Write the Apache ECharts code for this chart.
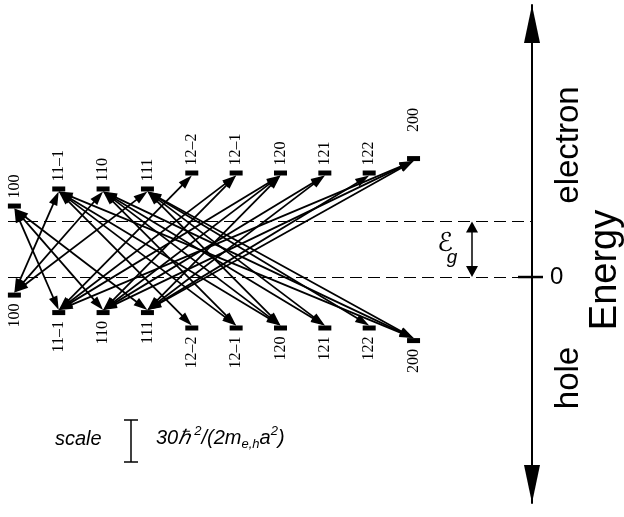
<!DOCTYPE html>
<html>
<head>
<meta charset="utf-8">
<title>Electron and hole levels</title>
<script src="https://cdn.jsdelivr.net/npm/echarts@6/dist/echarts.min.js"></script>
<style>
html, body { margin: 0; padding: 0; background: #fff; }
#main { width: 624px; height: 517px; }
</style>
</head>
<body>
<div id="main"></div>
<script>
// confinement levels in units of hbar^2/(2 m a^2)
var states = ['100', '11\u20131', '110', '111', '12\u20132', '12\u20131', '120', '121', '122', '200'];
var electronLevels = [11.1, 23.3, 23.3, 23.3, 34.7, 34.7, 34.7, 34.7, 34.7, 45.0]; // above conduction band edge
var holeLevels = [12.9, 25.4, 25.4, 25.4, 36.4, 36.4, 36.4, 36.4, 36.4, 45.4];     // below valence band edge
var gapEnergy = 39.6;
var scaleEnergy = 30;
var zeroTick = [0];

// allowed transitions: [electron state, hole state], indices into states
var transitions = [
	[0, 1], [0, 2], [0, 3],
	[4, 1],
	[5, 1], [5, 2],
	[6, 1], [6, 2], [6, 3],
	[7, 2], [7, 3],
	[8, 3],
	[9, 1], [9, 2], [9, 3],
	[1, 0], [2, 0], [3, 0],
	[1, 4],
	[1, 5], [2, 5],
	[1, 6], [2, 6], [3, 6],
	[2, 7], [3, 7],
	[3, 8],
	[1, 9], [2, 9], [3, 9]
];

var BAR_W = 13, BAR_H = 5;
var HEAD_L = 14, HEAD_W = 9;
var GAP_ARROW_X = 472;
var SCALE_X = 131, SCALE_Y = 441;

var electronData = [];
var holeData = [];
for (var i = 0; i < states.length; i++) {
	electronData.push({ name: states[i], value: [i, gapEnergy + electronLevels[i]] });
	holeData.push({ name: states[i], value: [i, -holeLevels[i]] });
}
// the top 200 label sits higher
electronData[9].label = { distance: 24 };

var transitionData = [];
for (var k = 0; k < transitions.length; k++) {
	var e = transitions[k][0], h = transitions[k][1];
	transitionData.push([e, gapEnergy + electronLevels[e], h, -holeLevels[h]]);
}

function arrowHead(tip, from, len, wid) {
	var dx = tip[0] - from[0], dy = tip[1] - from[1];
	var d = Math.sqrt(dx * dx + dy * dy);
	var ux = dx / d, uy = dy / d;
	var bx = tip[0] - ux * len, by = tip[1] - uy * len;
	return {
		type: 'polygon',
		shape: { points: [tip, [bx - uy * wid / 2, by + ux * wid / 2], [bx + uy * wid / 2, by - ux * wid / 2]] },
		style: { fill: '#000' }
	};
}

function renderTransition(params, api) {
	var a = api.coord([api.value(0), api.value(1)]);
	var b = api.coord([api.value(2), api.value(3)]);
	var ta = [a[0], a[1] + BAR_H / 2];
	var tb = [b[0], b[1] - BAR_H / 2];
	var dx = tb[0] - ta[0], dy = tb[1] - ta[1];
	var d = Math.sqrt(dx * dx + dy * dy);
	var s = (HEAD_L - 3) / d;
	return {
		type: 'group',
		children: [
			{ type: 'line', shape: { x1: ta[0] + dx * s, y1: ta[1] + dy * s, x2: tb[0] - dx * s, y2: tb[1] - dy * s },
				style: { stroke: '#000', lineWidth: 1.8 } },
			arrowHead(ta, tb, HEAD_L, HEAD_W),
			arrowHead(tb, ta, HEAD_L, HEAD_W)
		]
	};
}

function renderAnnotations(params, api) {
	var edge = api.coord([0, api.value(0)]);
	var zero = api.coord([0, 0]);
	var axisX = params.coordSys.x + params.coordSys.width;
	var len = api.size([0, api.value(1)])[1];
	var gx = GAP_ARROW_X;
	return {
		type: 'group',
		children: [
			// band gap double arrow
			{ type: 'line', shape: { x1: gx, y1: edge[1] + 8, x2: gx, y2: zero[1] - 8 }, style: { stroke: '#000', lineWidth: 1.5 } },
			arrowHead([gx, edge[1]], [gx, zero[1]], 11, 12),
			arrowHead([gx, zero[1]], [gx, edge[1]], 11, 12),
			// zero tick across the energy axis
			{ type: 'line', shape: { x1: axisX - 14, y1: zero[1], x2: axisX + 11, y2: zero[1] }, style: { stroke: '#000', lineWidth: 2.5 } },
			// scale bar
			{ type: 'line', shape: { x1: SCALE_X, y1: SCALE_Y - len / 2, x2: SCALE_X, y2: SCALE_Y + len / 2 }, style: { stroke: '#000', lineWidth: 1.5 } },
			{ type: 'line', shape: { x1: SCALE_X - 7, y1: SCALE_Y - len / 2, x2: SCALE_X + 7, y2: SCALE_Y - len / 2 }, style: { stroke: '#000', lineWidth: 1.5 } },
			{ type: 'line', shape: { x1: SCALE_X - 7, y1: SCALE_Y + len / 2, x2: SCALE_X + 7, y2: SCALE_Y + len / 2 }, style: { stroke: '#000', lineWidth: 1.5 } }
		]
	};
}

var levelLabel = {
	show: true,
	rotate: 90,
	verticalAlign: 'middle',
	formatter: '{b}',
	fontFamily: 'Liberation Serif',
	fontSize: 16,
	color: '#000'
};

var chart = echarts.init(document.getElementById('main'));
var option = {
	animation: false,
	grid: { left: 8, right: 92, top: 5, bottom: 14 },
	xAxis: { type: 'value', min: -0.144, max: 11.671, show: false },
	yAxis: {
		type: 'value',
		position: 'right',
		min: -161.4,
		max: 194.3,
		splitLine: { show: false },
		axisLine: {
			show: true,
			onZero: false,
			symbol: ['triangle', 'triangle'],
			symbolSize: [16, 38],
			symbolOffset: [19, -19],
			lineStyle: { color: '#000', width: 2 }
		},
		axisTick: { show: false },
		axisLabel: {
			customValues: zeroTick,
			margin: 18,
			color: '#000',
			fontFamily: 'Liberation Sans',
			fontSize: 24
		}
	},
	graphic: [
		{ type: 'text', x: 569, y: 145, rotation: Math.PI / 2,
			style: { text: 'electron', fontFamily: 'Liberation Sans', fontSize: 33, fill: '#000', align: 'center', verticalAlign: 'middle' } },
		{ type: 'text', x: 569, y: 378, rotation: Math.PI / 2,
			style: { text: 'hole', fontFamily: 'Liberation Sans', fontSize: 33, fill: '#000', align: 'center', verticalAlign: 'middle' } },
		{ type: 'text', x: 606, y: 270, rotation: Math.PI / 2,
			style: { text: 'Energy', fontFamily: 'Liberation Sans', fontSize: 38, fill: '#000', align: 'center', verticalAlign: 'middle' } },
		{ type: 'text', x: 445, y: 244,
			style: { text: '\u2130', fontFamily: 'DejaVu Sans', fontSize: 26, fill: '#000', align: 'center', verticalAlign: 'middle' } },
		{ type: 'text', x: 452, y: 258,
			style: { text: 'g', fontFamily: 'Liberation Sans', fontStyle: 'italic', fontSize: 19, fill: '#000', align: 'center', verticalAlign: 'middle' } },
		{ type: 'text', x: 55, y: 439,
			style: { text: 'scale', fontFamily: 'Liberation Sans', fontStyle: 'italic', fontSize: 20, fill: '#000', align: 'left', verticalAlign: 'middle' } },
		{ type: 'text', x: 156, y: 438,
			style: {
				text: '30\u210f\u2009{sup|2}/(2m{sub|e,h}a{sup|2})',
				fontFamily: 'Liberation Sans', fontStyle: 'italic', fontSize: 20, lineHeight: 26,
				fill: '#000', align: 'left', verticalAlign: 'middle',
				rich: {
					sup: { fontFamily: 'Liberation Sans', fontStyle: 'italic', fontSize: 13, verticalAlign: 'top', lineHeight: 26, fill: '#000' },
					sub: { fontFamily: 'Liberation Sans', fontStyle: 'italic', fontSize: 13, verticalAlign: 'bottom', lineHeight: 26, fill: '#000' }
				}
			} }
	],
	series: [
		{
			type: 'custom',
			name: 'transitions',
			renderItem: renderTransition,
			data: transitionData,
			silent: true,
			z: 2
		},
		{
			type: 'scatter',
			name: 'electron levels',
			symbol: 'rect',
			symbolSize: [BAR_W, BAR_H],
			itemStyle: { color: '#000', opacity: 1 },
			label: echarts.util.extend({ position: 'top', distance: 5, align: 'left' }, levelLabel),
			data: electronData,
			silent: true,
			z: 3,
			markLine: {
				silent: true,
				symbol: ['none', 'none'],
				label: { show: false },
				lineStyle: { type: [12, 6], color: '#000', width: 1.2, opacity: 1 },
				data: [{ yAxis: gapEnergy }, { yAxis: 0 }]
			}
		},
		{
			type: 'scatter',
			name: 'hole levels',
			symbol: 'rect',
			symbolSize: [BAR_W, BAR_H],
			itemStyle: { color: '#000', opacity: 1 },
			label: echarts.util.extend({ position: 'bottom', distance: 6, align: 'right' }, levelLabel),
			data: holeData,
			silent: true,
			z: 3
		},
		{
			type: 'custom',
			name: 'annotations',
			renderItem: renderAnnotations,
			data: [[gapEnergy, scaleEnergy]],
			silent: true,
			z: 4
		}
	]
};
chart.setOption(option);
</script>
</body>
</html>
